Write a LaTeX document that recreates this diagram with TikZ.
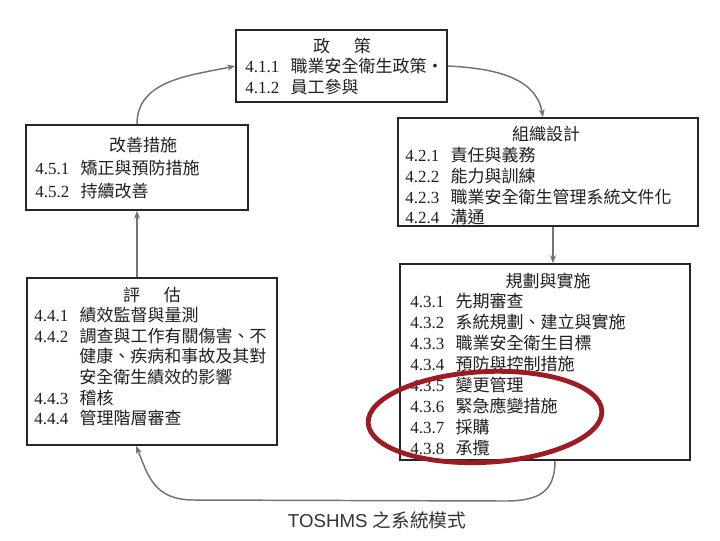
\documentclass[tikz,border=0pt]{standalone}
\usepackage{fontspec}
\setmainfont{Liberation Serif}
\newfontfamily\cjk{Noto Sans CJK TC}
\newfontfamily\capfont{Liberation Sans}
\usetikzlibrary{arrows.meta,calc,fit}
\newcommand{\itemnum}[1]{\makebox[34pt][l]{#1}}
\definecolor{ringred}{RGB}{155,28,34}
\begin{document}
\begin{tikzpicture}[x=0.75pt,y=-0.75pt,
  box/.style={draw=black!85, line width=1.3pt, inner sep=0pt},
  txt/.style={inner sep=0pt, text=black!88, font=\fontsize{12.75pt}{15pt}\selectfont},
  itm/.style={txt, anchor=west},
  conn/.style={draw=black!55, line width=1.1pt, -{Stealth[length=6pt,width=4.5pt]}},
  ring/.style={draw=ringred, line width=3.6pt}]
\fill[white] (0,0) rectangle (720,540);
\useasboundingbox (0,0) rectangle (720,540);

% boxes
\node[box, fit={(236,30) (447,102)}] (policy) {};
\node[box, fit={(26,125) (248,210)}] (improve) {};
\node[box, fit={(398,118) (698,226)}] (org) {};
\node[box, fit={(400,264) (690,460)}] (plan) {};
\node[box, fit={(27,278) (277,445)}] (eval) {};

% policy
\node[txt] (p0) at (342,46) {\cjk 政\hspace{1.4em}策};
\node[itm] (p1) at (245,66) {\itemnum{4.1.1}\cjk 職業安全衛生政策‧};
\node[itm] (p2) at (245,87) {\itemnum{4.1.2}\cjk 員工參與};

% improvement
\node[txt] (i0) at (143,145) {\cjk 改善措施};
\node[itm] (i1) at (35,168) {\itemnum{4.5.1}\cjk 矯正與預防措施};
\node[itm] (i2) at (35,191) {\itemnum{4.5.2}\cjk 持續改善};

% organisation
\node[txt] (o0) at (546,134) {\cjk 組織設計};
\node[itm] (o1) at (405,155) {\itemnum{4.2.1}\cjk 責任與義務};
\node[itm] (o2) at (405,176) {\itemnum{4.2.2}\cjk 能力與訓練};
\node[itm] (o3) at (405,197) {\itemnum{4.2.3}\cjk 職業安全衛生管理系統文件化};
\node[itm] (o4) at (405,217) {\itemnum{4.2.4}\cjk 溝通};

% planning
\node[txt] (l0) at (548,281) {\cjk 規劃與實施};
\node[itm] (l1) at (410,301) {\itemnum{4.3.1}\cjk 先期審查};
\node[itm] (l2) at (410,322) {\itemnum{4.3.2}\cjk 系統規劃、建立與實施};
\node[itm] (l3) at (410,343) {\itemnum{4.3.3}\cjk 職業安全衛生目標};
\node[itm] (l4) at (410,364) {\itemnum{4.3.4}\cjk 預防與控制措施};
\node[itm] (l5) at (410,385) {\itemnum{4.3.5}\cjk 變更管理};
\node[itm] (l6) at (410,406) {\itemnum{4.3.6}\cjk 緊急應變措施};
\node[itm] (l7) at (410,427) {\itemnum{4.3.7}\cjk 採購};
\node[itm] (l8) at (410,448) {\itemnum{4.3.8}\cjk 承攬};

% evaluation
\node[txt] (e0) at (152,295) {\cjk 評\hspace{1.4em}估};
\node[itm] (e1) at (34,315) {\itemnum{4.4.1}\cjk 績效監督與量測};
\node[itm] (e2) at (34,336) {\itemnum{4.4.2}\cjk 調查與工作有關傷害、不};
\node[itm] (e2b) at (79,356) {\cjk 健康、疾病和事故及其對};
\node[itm] (e2c) at (79,377) {\cjk 安全衛生績效的影響};
\node[itm] (e3) at (34,398) {\itemnum{4.4.3}\cjk 稽核};
\node[itm] (e4) at (34,418) {\itemnum{4.4.4}\cjk 管理階層審查};

% connectors
\draw[conn] (improve.north) to[out=90,in=192] (policy.west);
\draw[conn] (policy.east) to[out=-3,in=100] ($(org.north)+(-5,0)$);
\coordinate (od) at ($(org.south)+(5,0)$);
\draw[conn] (od) -- (od |- plan.north);
\draw[conn] (eval.north -| improve.south) -- (improve.south);
\coordinate (ps) at ($(plan.south)+(10,0)$);
\coordinate (pe) at ($(eval.south west)+(110,0)$);
\draw[conn] (ps) .. controls +(0,30) and +(35,0) .. (505,501) -- (194,500) .. controls +(-40,0) and +(12,30) .. (pe);

% red ring
\draw[ring, rotate around={3:(485,417)}] (485,417) ellipse [x radius=87.75pt, y radius=34pt];

% caption
\node[inner sep=0pt, text=black!80, font=\capfont\fontsize{14pt}{16pt}\selectfont] (cap) at (377,520) {TOSHMS {\cjk 之系統模式}};
\end{tikzpicture}
\end{document}
